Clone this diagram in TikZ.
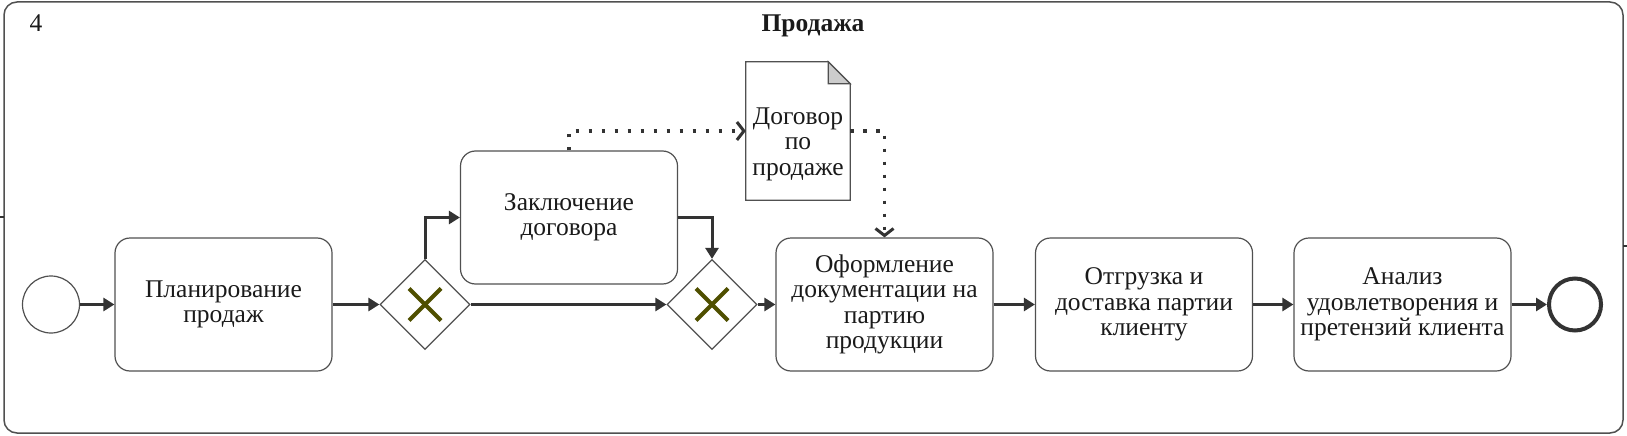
\documentclass[tikz,border=0pt]{standalone}
\usepackage{fontspec}
\setmainfont{Liberation Serif}
\usetikzlibrary{arrows.meta,shapes.geometric}

\newcommand{\labelFont}{\fontsize{25.5}{25.5}\selectfont}

\begin{document}
\begin{tikzpicture}[x=1pt, y=-1pt,
    task/.style={draw=borderColour, line width=1.2pt, rounded corners=15pt,
        minimum width=217pt, minimum height=133pt, inner sep=2pt,
        align=center, font=\labelFont, text=textColour},
    gateway/.style={draw=borderColour, line width=1.2pt, diamond,
        minimum width=90pt, minimum height=90pt, inner sep=0pt},
    gwcross/.style={draw=crossColour, line width=4pt},
    flow/.style={draw=flowColour, line width=3pt, -{Triangle[length=11pt,width=13pt]}},
    assoc/.style={draw=flowColour, line width=3.5pt, dash pattern=on 3.5pt off 9.5pt,
        -{Straight Barb[length=7pt,width=18pt,line width=3pt]}}]
    \def\fold{22}

    \definecolor{borderColour}{HTML}{505050}
    \definecolor{flowColour}{HTML}{333333}
    \definecolor{textColour}{HTML}{1A1A1A}
    \definecolor{crossColour}{HTML}{4F4F00}
    \definecolor{foldColour}{HTML}{CCCCCC}

    \useasboundingbox (0,0) rectangle (1627,436);

    % Draw pool
    \draw[borderColour, line width=1.5pt, rounded corners=13pt] (4,2) rectangle (1623,433);
    \coordinate (poolInA) at (0,217);
    \coordinate (poolInB) at (4,217);
    \coordinate (poolOutA) at (1623,246);
    \coordinate (poolOutB) at (1627,246);
    \draw[flowColour, line width=2pt] (poolInA) -- (poolInB);
    \draw[flowColour, line width=2pt] (poolOutA) -- (poolOutB);
    \node[font=\labelFont, text=textColour] (laneNum) at (36,23) {4};
    \node[font=\labelFont\bfseries, text=textColour] (laneTitle) at (813,26) {Продажа};

    % Events
    \node[circle, draw=borderColour, line width=1.2pt, minimum size=57pt, inner sep=0pt] (start) at (51,304.5) {};
    \node[circle, draw=flowColour, line width=4pt, minimum size=52pt, inner sep=0pt] (end) at (1575,304.5) {};

    % Tasks
    \node[task] (plan) at (223.5,304.5) {Планирование\\продаж};
    \node[task] (contract) at (569,217.5) {Заключение\\договора};
    \node[task] (docs) at (884.5,304.5) {Оформление\\документации на\\партию\\продукции};
    \node[task] (ship) at (1144,304.5) {Отгрузка и\\доставка партии\\клиенту};
    \node[task] (review) at (1402.5,304.5) {Анализ\\удовлетворения и\\претензий клиента};

    % Gateways
    \node[gateway] (split) at (425,304.5) {};
    \node[gateway] (join) at (712,304.5) {};
    \foreach \g in {split,join} {
        \draw[gwcross] ([shift={(-16,-16)}]\g.center) -- ([shift={(16,16)}]\g.center);
        \draw[gwcross] ([shift={(-16,16)}]\g.center) -- ([shift={(16,-16)}]\g.center);
    }

    % Data object
    \node[minimum width=104pt, minimum height=138pt, inner sep=0pt] (contractDoc) at (798,131) {};
    \draw[borderColour, line width=1.2pt, fill=white] (contractDoc.north west)
        -- ([xshift=-\fold pt]contractDoc.north east)
        -- ([yshift=-\fold pt]contractDoc.north east)
        -- (contractDoc.south east) -- (contractDoc.south west) -- cycle;
    \filldraw[fill=foldColour, draw=borderColour, line width=1.2pt] ([xshift=-\fold pt]contractDoc.north east)
        -- ([xshift=-\fold pt, yshift=-\fold pt]contractDoc.north east)
        -- ([yshift=-\fold pt]contractDoc.north east) -- cycle;
    \node[font=\labelFont, text=textColour, align=center] (docLabel) at (798,144) {Договор\\по\\продаже};

    % Sequence flows
    \draw[flow] (start) -- (plan);
    \draw[flow] (plan) -- (split);
    \draw[flow] (split.north) |- (contract.west);
    \draw[flow] (split.east) -- (join.west);
    \draw[flow] (contract.east) -| (join.north);
    \draw[flow] (join.east) -- (docs.west);
    \draw[flow] (docs) -- (ship);
    \draw[flow] (ship) -- (review);
    \draw[flow] (review) -- (end);

    % Associations
    \draw[assoc] (contract.north) |- (contractDoc.west);
    \draw[assoc] (contractDoc.east) -| (docs.north);

\end{tikzpicture}
\end{document}
